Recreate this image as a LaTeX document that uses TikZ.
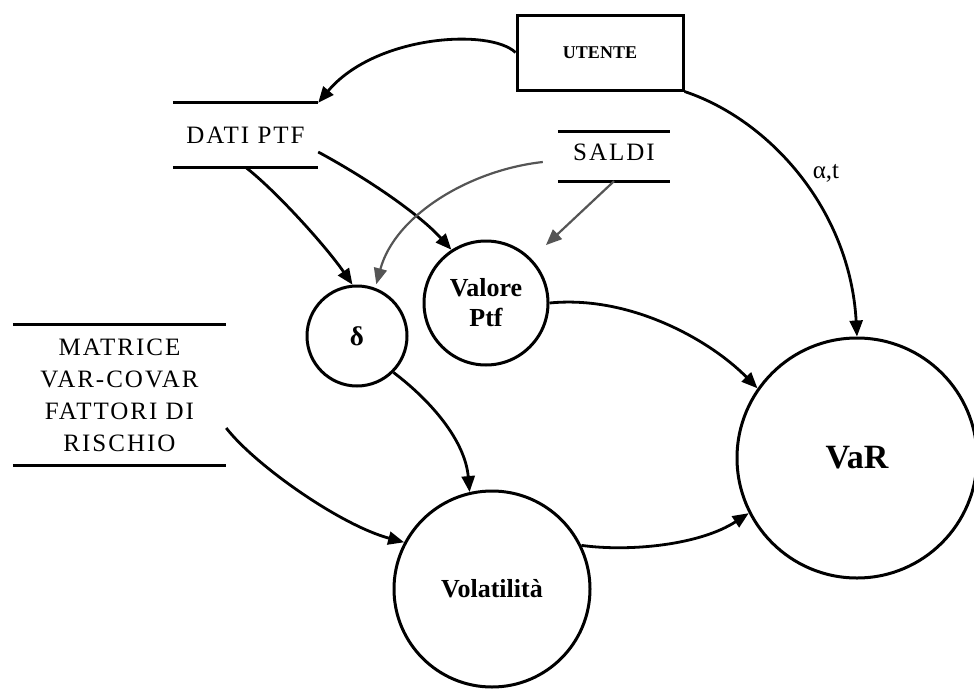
\documentclass[tikz,border=0pt]{standalone}
\usepackage{fontspec}
\setmainfont{Liberation Serif}
\newfontfamily\capsfont[LetterSpace=8]{Liberation Serif}
\usetikzlibrary{arrows.meta}
\definecolor{flowgrey}{RGB}{85,85,85}

\begin{document}
\begin{tikzpicture}[x=1pt,y=-1pt,
  flow/.style={-{Triangle[length=16pt,width=13pt]}, line width=2.8pt},
  greyflow/.style={flow, draw=flowgrey, line width=2.2pt},
  store/.style={inner sep=0pt, align=center, font=\capsfont\fontsize{25}{32}\selectfont},
  storeline/.style={line width=3pt},
  process/.style={circle, draw, line width=3pt, inner sep=0pt, align=center},
  entity/.style={rectangle, draw, line width=3pt, inner sep=0pt},
  lbl/.style={inner sep=0pt, font=\fontsize{25}{26}\selectfont}
]
\useasboundingbox (0,0) rectangle (974,688);

% external entity
\node[entity, minimum width=166pt, minimum height=75pt,
      font=\bfseries\fontsize{18}{20}\selectfont] (utente) at (600,52.5) {UTENTE};

% data stores
\node[store, minimum width=145pt, minimum height=64pt] (dati) at (245.5,135) {DATI PTF};
\node[store, minimum width=112pt, minimum height=49pt, text depth=9pt] (saldi) at (614,156.5) {SALDI};
\node[store, minimum width=213pt, minimum height=140pt] (matrice) at (119.5,395)
  {MATRICE\\VAR-COVAR\\FATTORI DI\\RISCHIO};
\foreach \s in {dati,saldi,matrice}{
  \draw[storeline] (\s.north west) -- (\s.north east);
  \draw[storeline] (\s.south west) -- (\s.south east);
}

% processes
\node[process, minimum size=100pt, font=\bfseries\fontsize{27}{28}\selectfont] (delta) at (357,336) {δ};
\node[process, minimum size=124pt, font=\bfseries\fontsize{26}{30}\selectfont] (valore) at (486,303) {Valore\\Ptf};
\node[process, minimum size=240pt, font=\bfseries\fontsize{34}{36}\selectfont] (var) at (857,458) {VaR};
\node[process, minimum size=196pt, font=\bfseries\fontsize{26}{30}\selectfont] (vol) at (492,589) {Volatilità};

% flows
\draw[flow] (utente.west) .. controls (490,28) and (375,35) .. (dati.north east);
\draw[flow] (utente.south east) .. controls (770,120) and (850,210) .. (var.north);
\node[lbl] (alphat) at (826,173) {α,t};

\draw[flow] (dati.south) .. controls (275,190) and (325,245) .. (delta.95);
\draw[flow] ([yshift=-17pt]dati.east) .. controls (370,180) and (420,215) .. (valore.123);

\draw[greyflow] ([xshift=-15pt,yshift=-5.5pt]saldi.west) .. controls (470,170) and (395,215) .. ([yshift=4pt]delta.68);
\draw[greyflow] (saldi.south) -- ([xshift=15pt,yshift=13pt]valore.45);

\draw[flow] (valore.east) .. controls (630,295) and (710,340) .. (var.145);
\draw[flow] (delta.-45) .. controls (430,400) and (465,440) .. (vol.103);
\draw[flow] ([yshift=-33pt]matrice.east) .. controls (255,465) and (340,525) .. (vol.152);
\draw[flow] (vol.26) .. controls (630,552) and (700,545) .. (var.207);
\end{tikzpicture}
\end{document}
